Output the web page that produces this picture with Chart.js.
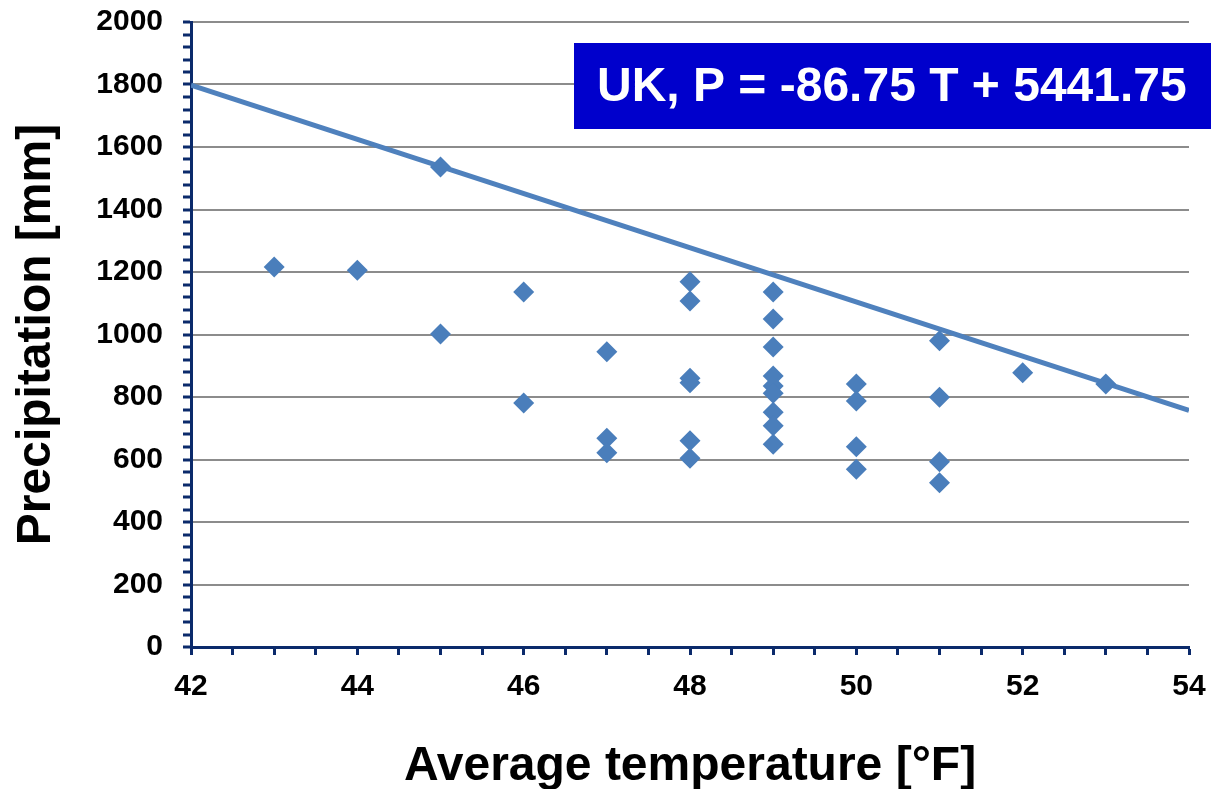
<!DOCTYPE html>
<html>
<head>
<meta charset="utf-8">
<script src="https://cdn.jsdelivr.net/npm/chart.js@4"></script>
<style>
  html, body { margin: 0; padding: 0; background: #fff; }
  #wrap { width: 1211px; height: 789px; }
</style>
</head>
<body>
<div id="wrap"><canvas id="chart" width="1211" height="789"></canvas></div>
<script>
'use strict';

// temperature [°F] of each station
const temps = [43, 44, 45, 45, 46, 46, 47, 47, 47,
    48, 48, 48, 48, 48, 48,
    49, 49, 49, 49, 49, 49, 49, 49, 49,
    50, 50, 50, 50,
    51, 51, 51, 51, 52, 53];
// precipitation [mm]
const precip = [1216, 1206, 1536, 1002, 1136, 781, 945, 668, 622,
    1169, 1107, 860, 846, 660, 604,
    1136, 1050, 960, 867, 835, 812, 751, 708, 649,
    842, 787, 641, 569,
    980, 799, 593, 526, 878, 842];

// trend line end points (P = -86.75 T + 5441.75)
const trendT = [42, 54];
const trendP = [1798.25, 757.25];
const equationText = 'UK, P = -86.75 T + 5441.75';

const yTicks = [0, 200, 400, 600, 800, 1000, 1200, 1400, 1600, 1800, 2000];
const xTicks = [42, 44, 46, 48, 50, 52, 54];

const FONT = "'Liberation Sans', Arial, sans-serif";
const NAVY = '#0b2a6b';

// blue box with the fit equation
const equationBox = {
    id: 'equationBox',
    afterDraw(chart) {
        const ctx = chart.ctx;
        ctx.save();
        ctx.fillStyle = '#0000cc';
        ctx.fillRect(574, 43, 640, 86);
        ctx.fillStyle = '#ffffff';
        ctx.font = 'bold 48px ' + FONT;
        ctx.textBaseline = 'middle';
        ctx.textAlign = 'left';
        ctx.fillText(equationText, 597, 88);
        ctx.restore();
    }
};

const points = temps.map((t, i) => ({ x: t, y: precip[i] }));
const trend = trendT.map((t, i) => ({ x: t, y: trendP[i] }));

new Chart(document.getElementById('chart'), {
    type: 'scatter',
    data: {
        datasets: [
            {
                label: 'Trend',
                data: trend,
                showLine: true,
                borderColor: '#4f81bd',
                borderWidth: 5,
                pointRadius: 0,
                order: 2
            },
            {
                label: 'Stations',
                data: points,
                pointStyle: 'rectRot',
                pointRadius: 10.5,
                backgroundColor: '#4a7ebb',
                borderColor: '#4a7ebb',
                borderWidth: 0,
                order: 1
            }
        ]
    },
    options: {
        responsive: false,
        animation: false,
        layout: { padding: 0 },
        plugins: {
            legend: { display: false },
            tooltip: { enabled: false }
        },
        scales: {
            x: {
                type: 'linear',
                min: 42,
                max: 54,
                afterBuildTicks: (scale) => {
                    const t = [];
                    for (let v = 42; v <= 54; v += 0.5) t.push({ value: v });
                    scale.ticks = t;
                },
                afterFit: (scale) => {
                    scale.height = 142;
                    scale.paddingLeft = 0;
                    scale.paddingRight = 22;
                },
                ticks: {
                    autoSkip: false,
                    maxRotation: 0,
                    padding: 14,
                    color: '#000',
                    font: { family: FONT, size: 30, weight: 'bold' },
                    callback: (v) => xTicks.includes(v) ? String(v) : ''
                },
                grid: {
                    drawOnChartArea: false,
                    drawTicks: true,
                    tickLength: 8,
                    tickWidth: 3,
                    tickColor: NAVY
                },
                border: { color: NAVY, width: 3 },
                title: {
                    display: true,
                    text: 'Average temperature [°F]',
                    color: '#000',
                    font: { family: FONT, size: 48, weight: 'bold' },
                    padding: { top: 0, bottom: -7 }
                }
            },
            y: {
                type: 'linear',
                min: 0,
                max: 2000,
                afterBuildTicks: (scale) => {
                    const t = [];
                    for (let v = 0; v <= 2000; v += 40) t.push({ value: v });
                    scale.ticks = t;
                },
                afterFit: (scale) => {
                    scale.width = 191;
                    scale.paddingTop = 22;
                    scale.paddingBottom = 0;
                },
                ticks: {
                    autoSkip: false,
                    padding: 20,
                    color: '#000',
                    font: { family: FONT, size: 30, weight: 'bold' },
                    callback: (v) => yTicks.includes(v) ? String(v) : ''
                },
                grid: {
                    color: (c) => (c.tick && c.tick.value % 200 === 0 && c.tick.value !== 0) ? '#8c8c8c' : 'rgba(0,0,0,0)',
                    lineWidth: 2,
                    drawTicks: true,
                    tickLength: 8,
                    tickWidth: 3,
                    tickColor: NAVY
                },
                border: { color: NAVY, width: 3 },
                title: {
                    display: true,
                    text: 'Precipitation [mm]',
                    color: '#000',
                    font: { family: FONT, size: 48, weight: 'bold' },
                    padding: { top: 8, bottom: 0 }
                }
            }
        }
    },
    plugins: [equationBox]
});
</script>
</body>
</html>
